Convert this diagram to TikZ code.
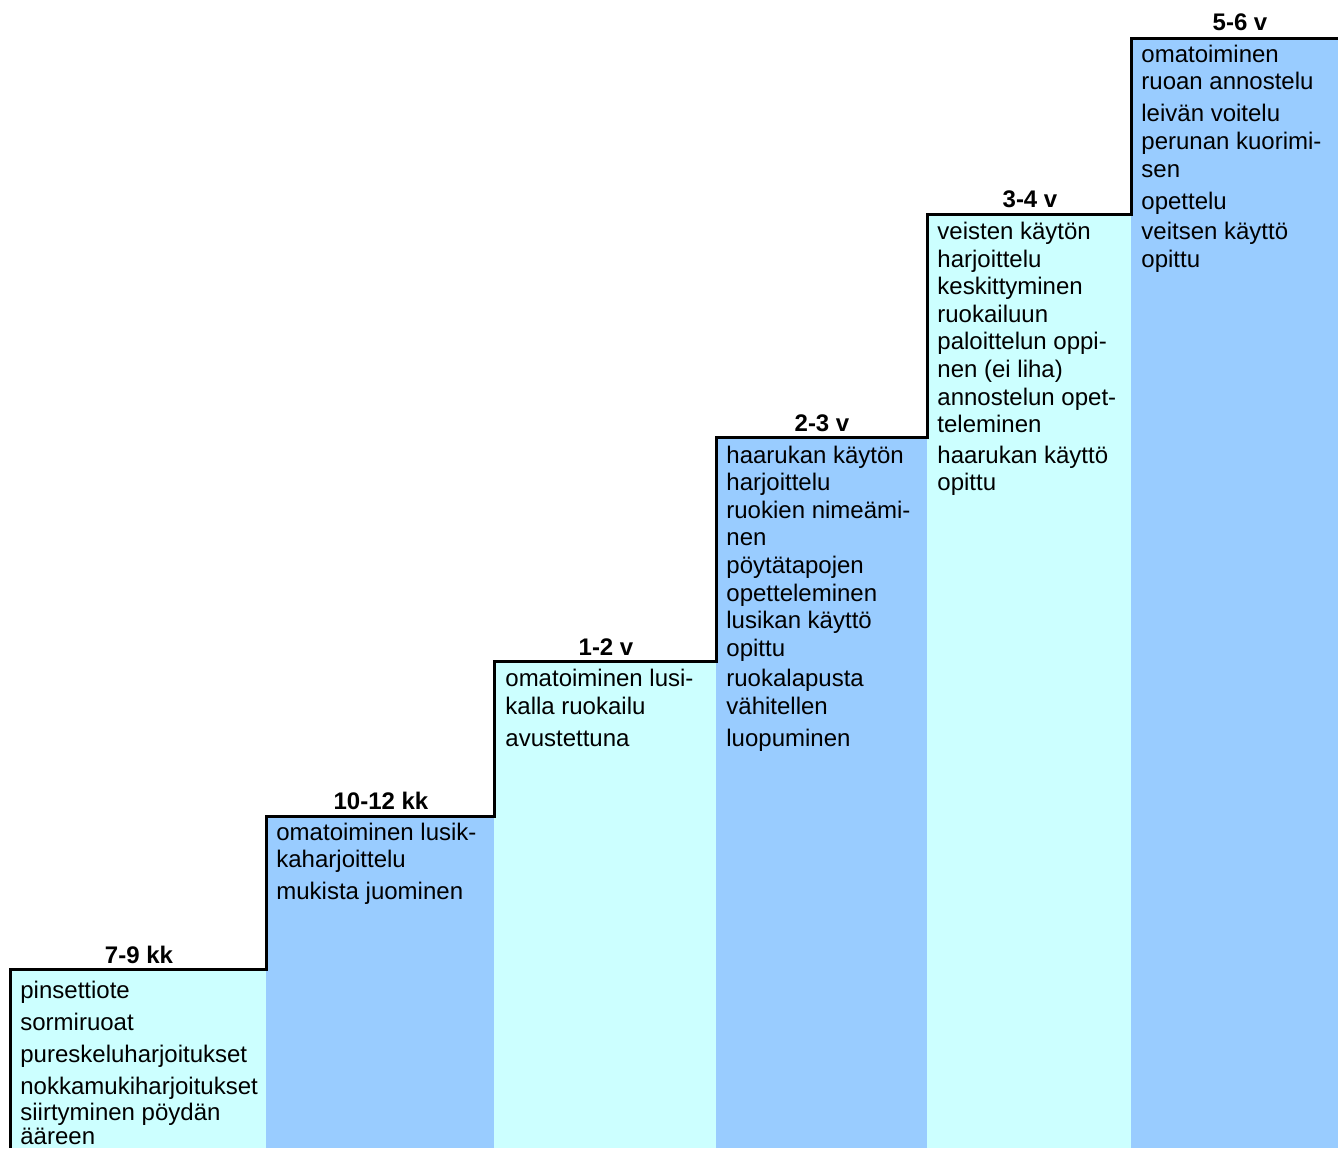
\documentclass[tikz,border=0pt]{standalone}
\usepackage{fontspec}
\setmainfont{Liberation Sans}
\definecolor{lcyan}{HTML}{CCFFFF}
\definecolor{lblue}{HTML}{99CCFF}
\newcommand\putline[4]{\node[itemtxt] (#1) at (#2,#3) {#4};}
\newcommand\puthead[4]{\node[headtxt] (#1) at (#2,#3) {#4};}
\begin{document}
\begin{tikzpicture}[x=0.5pt,y=-0.5pt,
  itemtxt/.style={anchor=base west, inner sep=0pt, font=\fontsize{12}{14}\selectfont},
  headtxt/.style={anchor=base, inner sep=0pt, font=\fontsize{12}{14}\selectfont\bfseries},
  stair/.style={line width=1.5pt, line join=miter}]
\useasboundingbox (0,0) rectangle (1338,1148);
% column fills
\fill[lcyan] (10,969) rectangle (266,1148);
\fill[lblue] (266,816) rectangle (494,1148);
\fill[lcyan] (494,661) rectangle (716,1148);
\fill[lblue] (716,437) rectangle (927,1148);
\fill[lcyan] (927,214) rectangle (1131,1148);
\fill[lblue] (1131,38) rectangle (1338,1148);
% stair outline
\draw[stair] (10.5,1148) -- (10.5,969) -- (266.5,969) -- (266.5,816) -- (494.5,816) -- (494.5,661)
  -- (716.5,661) -- (716.5,437) -- (927.5,437) -- (927.5,214) -- (1131.5,214) -- (1131.5,38) -- (1338,38);
% headers
\puthead{h1}{139}{963}{7-9 kk}
\puthead{h2}{381}{809}{10-12 kk}
\puthead{h3}{606}{655}{1-2 v}
\puthead{h4}{822}{431}{2-3 v}
\puthead{h5}{1030}{207}{3-4 v}
\puthead{h6}{1240}{30}{5-6 v}
% column 1
\putline{c1a}{20}{998}{pinsettiote}
\putline{c1b}{20}{1030}{sormiruoat}
\putline{c1c}{20}{1062}{pureskeluharjoitukset}
\putline{c1d}{20}{1094}{nokkamukiharjoitukset}
\putline{c1e}{20}{1120}{siirtyminen pöydän}
\node[itemtxt, text depth=0pt] (c1f) at (20,1144) {ääreen};
% column 2
\putline{c2a}{276}{840}{omatoiminen lusik-}
\putline{c2b}{276}{867}{kaharjoittelu}
\putline{c2c}{276}{899}{mukista juominen}
% column 3
\putline{c3a}{505}{686}{omatoiminen lusi-}
\putline{c3b}{505}{714}{kalla ruokailu}
\putline{c3c}{505}{746}{avustettuna}
% column 4
\putline{c4a}{726}{463}{haarukan käytön}
\putline{c4b}{726}{490}{harjoittelu}
\putline{c4c}{726}{518}{ruokien nimeämi-}
\putline{c4d}{726}{545}{nen}
\putline{c4e}{726}{573}{pöytätapojen}
\putline{c4f}{726}{601}{opetteleminen}
\putline{c4g}{726}{628}{lusikan käyttö}
\putline{c4h}{726}{656}{opittu}
\putline{c4i}{726}{686}{ruokalapusta}
\putline{c4j}{726}{714}{vähitellen}
\putline{c4k}{726}{746}{luopuminen}
% column 5
\putline{c5a}{937}{239}{veisten käytön}
\putline{c5b}{937}{267}{harjoittelu}
\putline{c5c}{937}{294}{keskittyminen}
\putline{c5d}{937}{322}{ruokailuun}
\putline{c5e}{937}{349}{paloittelun oppi-}
\putline{c5f}{937}{377}{nen (ei liha)}
\putline{c5g}{937}{405}{annostelun opet-}
\putline{c5h}{937}{432}{teleminen}
\putline{c5i}{937}{463}{haarukan käyttö}
\putline{c5j}{937}{490}{opittu}
% column 6
\putline{c6a}{1141}{62}{omatoiminen}
\putline{c6b}{1141}{89}{ruoan annostelu}
\putline{c6c}{1141}{121}{leivän voitelu}
\putline{c6d}{1141}{149}{perunan kuorimi-}
\putline{c6e}{1141}{177}{sen}
\putline{c6f}{1141}{209}{opettelu}
\putline{c6g}{1141}{239}{veitsen käyttö}
\putline{c6h}{1141}{267}{opittu}
\end{tikzpicture}
\end{document}
